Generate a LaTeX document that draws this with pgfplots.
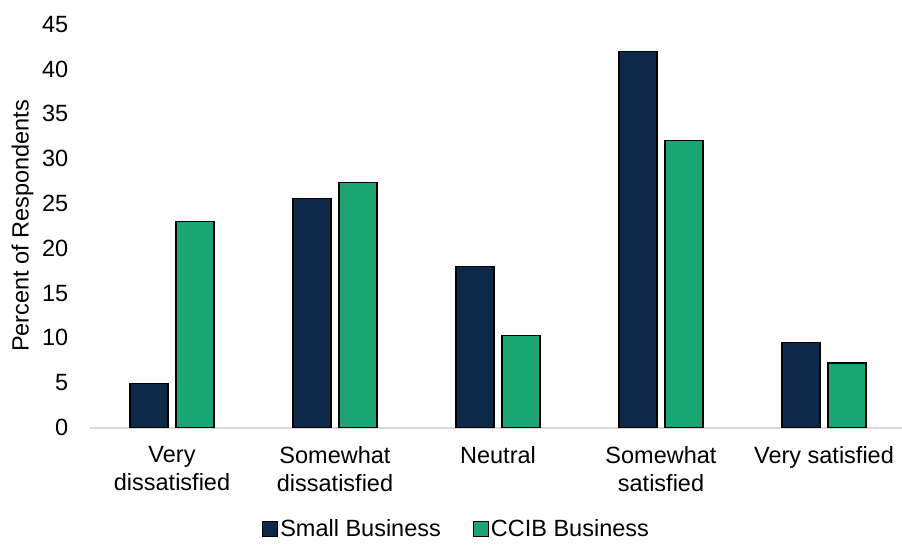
\documentclass[border=0pt]{standalone}
\usepackage{pgfplots}
\pgfplotsset{compat=1.18}
\usepackage{fontspec}
\setmainfont{Liberation Sans}
\definecolor{navy}{HTML}{0C2949}
\definecolor{ccib}{HTML}{1AA673}
\definecolor{axgray}{HTML}{D9D9D9}
\begin{document}
\begin{tikzpicture}[font=\fontsize{23.5}{28}\selectfont]
\begin{axis}[
  x=163pt, y=8.96pt,
  xmin=-0.5, xmax=4.48,
  ymin=0, ymax=45,
  ytick={0,5,...,45},
  xtick={0,1,2,3,4},
  xticklabels={Very\\dissatisfied, Somewhat\\dissatisfied, Neutral, Somewhat\\satisfied, Very satisfied},
  major tick length=0pt,
  axis x line*=bottom, axis y line*=left,
  x axis line style={-, draw=axgray, line width=2pt},
  y axis line style={draw=none},
  /pgf/number format/assume math mode=true,
  yticklabel style={inner sep=0pt, xshift=-22pt, anchor=east},
  xticklabel style={inner sep=0pt, yshift=-19pt, anchor=north, align=center},
  ylabel={Percent of Respondents},
  every axis y label/.style={at={(axis description cs:-0.0699,0.5)}, rotate=90, anchor=south, inner sep=0pt},
  ybar, bar width=38pt,
  every axis plot/.append style={draw=black, line width=1.1pt},
  legend columns=2,
  legend style={at={(axis description cs:0.451,-0.252)}, anchor=center, draw=none, fill=none, inner sep=0pt,
    /tikz/every even column/.append style={column sep=30pt}},
  legend image code/.code={\draw[#1, draw=black, line width=1pt] (0pt,-7.5pt) rectangle (15pt,7.5pt);},
  clip=false,
]
\addplot[fill=navy, bar shift=-23pt] coordinates {(0,4.9) (1,25.6) (2,18.0) (3,42.0) (4,9.5)};
\addplot[fill=ccib, bar shift=23pt] coordinates {(0,23.0) (1,27.3) (2,10.3) (3,32.0) (4,7.2)};
\legend{Small Business, CCIB Business}
\coordinate (O) at (axis cs:-0.5,0);
\end{axis}
\pgfresetboundingbox
\path ([shift={(-90.5pt,-116.5pt)}]O) rectangle ([shift={(811.5pt,427.5pt)}]O);
\end{tikzpicture}
\end{document}
